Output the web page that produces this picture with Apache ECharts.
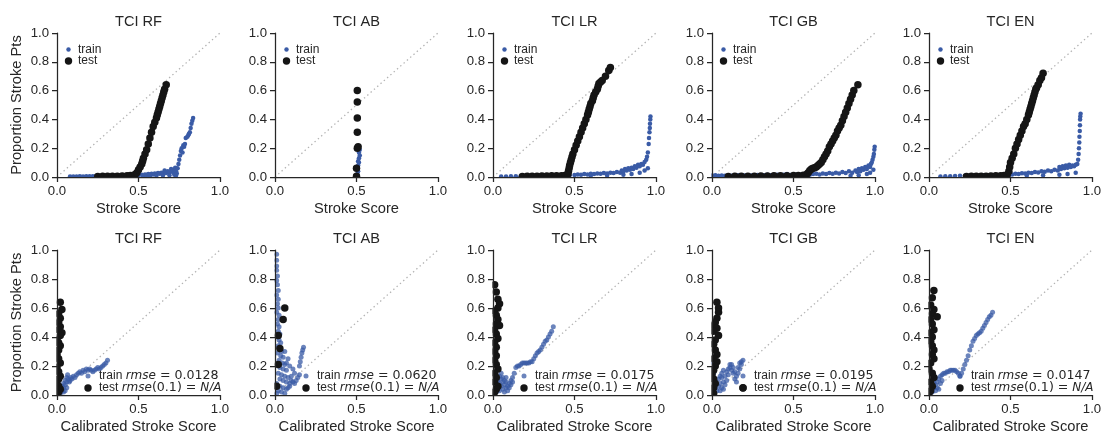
<!DOCTYPE html>
<html><head><meta charset="utf-8">
<script src="https://cdn.jsdelivr.net/npm/echarts@6/dist/echarts.min.js"></script>
<style>html,body{margin:0;padding:0;background:#fff}#c{width:1106px;height:435px}</style>
</head><body><div id="c"></div>
<script>
const titles = ['TCI RF', 'TCI AB', 'TCI LR', 'TCI GB', 'TCI EN'];
const trainRmse = ['0.0128', '0.0620', '0.0175', '0.0195', '0.0147'];
const testRmse = ['N/A', 'N/A', 'N/A', 'N/A', 'N/A'];
const xTickInterval = 0.5;
const yTickInterval = 0.2;

// ---- Row 1: raw score calibration (x = stroke score, y = proportion stroke pts) ----
const rfTrain = [[0.08,0.003],[0.10,0.004],[0.12,0.004],[0.14,0.005],[0.16,0.004],[0.18,0.006],[0.20,0.005],[0.22,0.006],[0.24,0.007],[0.26,0.006],[0.28,0.008],[0.30,0.007],[0.32,0.008],[0.34,0.009],[0.36,0.008],[0.38,0.010],[0.40,0.009],[0.42,0.011],[0.44,0.010],[0.46,0.012],[0.48,0.013],[0.50,0.012],[0.52,0.015],[0.53,0.005],[0.54,0.018],[0.55,0.014],[0.56,0.020],[0.57,0.016],[0.57,0.006],[0.58,0.022],[0.59,0.018],[0.60,0.025],[0.61,0.020],[0.61,0.008],[0.62,0.028],[0.63,0.022],[0.64,0.030],[0.65,0.025],[0.65,0.010],[0.66,0.045],[0.665,0.035],[0.67,0.028],[0.68,0.040],[0.69,0.032],[0.69,0.012],[0.70,0.055],[0.705,0.038],[0.71,0.045],[0.715,0.030],[0.72,0.050],[0.72,0.015],[0.725,0.065],[0.73,0.040],[0.73,0.008],[0.735,0.025],[0.74,0.06],[0.745,0.09],[0.75,0.12],[0.755,0.15],[0.76,0.18],[0.765,0.20],[0.77,0.17],[0.775,0.22],[0.78,0.21],[0.785,0.23],[0.79,0.27],[0.80,0.28],[0.805,0.29],[0.81,0.30],[0.815,0.31],[0.82,0.34],[0.825,0.37],[0.83,0.39],[0.835,0.41]];
const rfTest = [[0.25,0.004],[0.28,0.005],[0.31,0.005],[0.34,0.006],[0.37,0.006],[0.40,0.007],[0.43,0.008],[0.45,0.010],[0.47,0.013],[0.48,0.018],[0.49,0.03],[0.50,0.05],[0.51,0.07],[0.52,0.09],[0.525,0.11],[0.53,0.13],[0.54,0.16],[0.55,0.19],[0.56,0.23],[0.57,0.27],[0.58,0.31],[0.59,0.35],[0.60,0.38],[0.61,0.41],[0.615,0.43],[0.62,0.45],[0.625,0.47],[0.63,0.49],[0.635,0.51],[0.64,0.53],[0.645,0.55],[0.65,0.57],[0.655,0.59],[0.66,0.61],[0.67,0.64]];

const abTrain = [[0.50,0.005],[0.505,0.02],[0.51,0.04],[0.505,0.06],[0.51,0.08],[0.515,0.10],[0.51,0.11],[0.515,0.13],[0.52,0.15],[0.515,0.17],[0.52,0.19]];
const abTest = [[0.50,0.005],[0.50,0.06],[0.505,0.20],[0.51,0.21],[0.505,0.31],[0.505,0.41],[0.505,0.52],[0.505,0.60]];

const lrTrain = [[0.05,0.003],[0.08,0.004],[0.11,0.005],[0.14,0.005],[0.17,0.006],[0.20,0.007],[0.23,0.007],[0.26,0.008],[0.29,0.008],[0.32,0.009],[0.35,0.010],[0.38,0.010],[0.41,0.011],[0.44,0.012],[0.47,0.013],[0.50,0.014],[0.52,0.018],[0.54,0.015],[0.56,0.020],[0.58,0.018],[0.60,0.022],[0.60,0.008],[0.62,0.020],[0.64,0.025],[0.66,0.022],[0.68,0.028],[0.70,0.025],[0.70,0.010],[0.72,0.030],[0.74,0.028],[0.76,0.035],[0.78,0.030],[0.79,0.045],[0.80,0.040],[0.80,0.015],[0.81,0.055],[0.82,0.045],[0.83,0.060],[0.84,0.050],[0.85,0.065],[0.85,0.020],[0.86,0.055],[0.87,0.075],[0.88,0.065],[0.89,0.085],[0.90,0.075],[0.90,0.030],[0.91,0.090],[0.92,0.085],[0.93,0.105],[0.93,0.045],[0.94,0.12],[0.945,0.14],[0.95,0.17],[0.95,0.06],[0.955,0.23],[0.957,0.27],[0.96,0.31],[0.962,0.34],[0.963,0.37],[0.965,0.40],[0.966,0.42]];
const lrTest = [[0.18,0.004],[0.21,0.005],[0.24,0.006],[0.27,0.006],[0.30,0.007],[0.33,0.007],[0.36,0.008],[0.39,0.008],[0.42,0.009],[0.44,0.010],[0.45,0.012],[0.46,0.02],[0.463,0.04],[0.467,0.06],[0.47,0.08],[0.475,0.10],[0.48,0.12],[0.485,0.14],[0.49,0.16],[0.50,0.19],[0.51,0.22],[0.52,0.25],[0.53,0.28],[0.54,0.31],[0.55,0.34],[0.56,0.37],[0.57,0.40],[0.58,0.43],[0.585,0.45],[0.59,0.47],[0.595,0.49],[0.60,0.51],[0.61,0.53],[0.615,0.55],[0.62,0.57],[0.63,0.59],[0.64,0.61],[0.645,0.63],[0.65,0.65],[0.66,0.66],[0.67,0.67],[0.69,0.70],[0.71,0.74],[0.72,0.76]];

const gbTrain = [[0.00,0.010],[0.02,0.012],[0.04,0.008],[0.06,0.010],[0.08,0.009],[0.10,0.011],[0.12,0.008],[0.14,0.010],[0.16,0.012],[0.18,0.009],[0.20,0.011],[0.22,0.013],[0.24,0.010],[0.26,0.012],[0.28,0.014],[0.30,0.011],[0.32,0.013],[0.34,0.015],[0.36,0.012],[0.38,0.014],[0.40,0.016],[0.42,0.013],[0.44,0.015],[0.46,0.020],[0.48,0.014],[0.50,0.016],[0.52,0.018],[0.54,0.015],[0.56,0.017],[0.58,0.019],[0.60,0.016],[0.62,0.020],[0.64,0.022],[0.66,0.018],[0.68,0.025],[0.70,0.020],[0.72,0.028],[0.74,0.022],[0.76,0.030],[0.78,0.024],[0.80,0.035],[0.82,0.028],[0.84,0.040],[0.85,0.008],[0.86,0.030],[0.88,0.045],[0.89,0.035],[0.90,0.055],[0.90,0.012],[0.91,0.040],[0.92,0.060],[0.93,0.050],[0.94,0.070],[0.95,0.055],[0.95,0.020],[0.96,0.080],[0.97,0.070],[0.97,0.030],[0.975,0.090],[0.98,0.100],[0.985,0.12],[0.99,0.14],[0.99,0.05],[0.993,0.16],[0.996,0.19],[0.998,0.21]];
const gbTest = [[0.10,0.004],[0.14,0.005],[0.18,0.005],[0.22,0.006],[0.26,0.006],[0.30,0.007],[0.34,0.007],[0.38,0.008],[0.42,0.008],[0.46,0.009],[0.50,0.010],[0.53,0.011],[0.56,0.013],[0.58,0.018],[0.59,0.030],[0.60,0.045],[0.61,0.055],[0.62,0.060],[0.63,0.065],[0.64,0.070],[0.65,0.080],[0.66,0.090],[0.67,0.100],[0.68,0.12],[0.69,0.14],[0.70,0.16],[0.71,0.18],[0.72,0.21],[0.73,0.23],[0.74,0.25],[0.75,0.27],[0.76,0.29],[0.77,0.32],[0.78,0.34],[0.79,0.36],[0.80,0.39],[0.81,0.42],[0.82,0.45],[0.83,0.48],[0.84,0.51],[0.85,0.54],[0.86,0.57],[0.87,0.60],[0.895,0.64]];

const enTrain = [[0.07,0.004],[0.10,0.005],[0.13,0.006],[0.16,0.007],[0.19,0.008],[0.22,0.008],[0.25,0.009],[0.28,0.010],[0.31,0.011],[0.34,0.012],[0.37,0.012],[0.40,0.013],[0.43,0.014],[0.46,0.015],[0.49,0.016],[0.51,0.018],[0.53,0.022],[0.55,0.020],[0.57,0.026],[0.59,0.024],[0.60,0.008],[0.61,0.030],[0.63,0.028],[0.65,0.035],[0.67,0.032],[0.69,0.040],[0.70,0.012],[0.71,0.036],[0.73,0.045],[0.75,0.040],[0.77,0.050],[0.79,0.045],[0.80,0.070],[0.80,0.015],[0.81,0.055],[0.82,0.075],[0.83,0.060],[0.84,0.080],[0.85,0.065],[0.85,0.020],[0.86,0.085],[0.87,0.070],[0.88,0.080],[0.89,0.075],[0.90,0.085],[0.90,0.030],[0.91,0.090],[0.915,0.12],[0.918,0.16],[0.92,0.20],[0.922,0.24],[0.923,0.28],[0.925,0.32],[0.926,0.36],[0.927,0.40],[0.928,0.42],[0.93,0.44]];
const enTest = [[0.23,0.004],[0.26,0.005],[0.29,0.005],[0.32,0.006],[0.35,0.006],[0.38,0.007],[0.41,0.008],[0.44,0.009],[0.46,0.010],[0.48,0.015],[0.49,0.04],[0.495,0.07],[0.50,0.10],[0.51,0.13],[0.52,0.16],[0.53,0.20],[0.54,0.23],[0.55,0.26],[0.56,0.29],[0.57,0.32],[0.58,0.35],[0.59,0.37],[0.60,0.40],[0.61,0.43],[0.615,0.45],[0.62,0.47],[0.625,0.49],[0.63,0.51],[0.635,0.53],[0.64,0.55],[0.645,0.57],[0.65,0.59],[0.655,0.61],[0.66,0.62],[0.67,0.64],[0.68,0.67],[0.69,0.69],[0.70,0.72]];

// ---- Row 2: calibrated score (x = calibrated stroke score, y = proportion stroke pts) ----
const rfCalTrain = [[0.02,0.01],[0.03,0.03],[0.03,0.06],[0.04,0.02],[0.04,0.05],[0.04,0.08],[0.05,0.03],[0.05,0.07],[0.05,0.10],[0.06,0.05],[0.06,0.09],[0.06,0.12],[0.065,0.14],[0.07,0.11],[0.075,0.09],[0.08,0.10],[0.085,0.12],[0.09,0.11],[0.10,0.13],[0.11,0.12],[0.12,0.14],[0.13,0.15],[0.14,0.16],[0.15,0.15],[0.16,0.17],[0.17,0.16],[0.18,0.18],[0.19,0.17],[0.20,0.18],[0.21,0.17],[0.22,0.16],[0.23,0.17],[0.24,0.18],[0.25,0.19],[0.26,0.18],[0.27,0.19],[0.28,0.20],[0.29,0.21],[0.30,0.22],[0.31,0.24]];
const rfCalTest = [[0.02,0.64],[0.03,0.59],[0.01,0.56],[0.02,0.53],[0.01,0.50],[0.02,0.47],[0.01,0.45],[0.03,0.43],[0.02,0.41],[0.00,0.38],[0.01,0.36],[0.02,0.34],[0.01,0.31],[0.00,0.28],[0.01,0.25],[0.02,0.22],[0.00,0.19],[0.01,0.16],[0.02,0.13],[0.01,0.11],[0.00,0.08],[0.01,0.06],[0.02,0.04],[0.01,0.02],[0.00,0.01]];

const abCalTrain = [[0.01,0.97],[0.01,0.93],[0.01,0.89],[0.01,0.86],[0.015,0.82],[0.01,0.79],[0.015,0.76],[0.02,0.72],[0.01,0.69],[0.02,0.66],[0.015,0.63],[0.02,0.60],[0.01,0.57],[0.025,0.55],[0.02,0.52],[0.015,0.49],[0.025,0.47],[0.02,0.44],[0.03,0.42],[0.015,0.40],[0.025,0.38],[0.035,0.36],[0.02,0.34],[0.03,0.32],[0.04,0.30],[0.06,0.30],[0.015,0.29],[0.035,0.27],[0.05,0.26],[0.08,0.25],[0.025,0.24],[0.045,0.22],[0.07,0.22],[0.06,0.21],[0.03,0.19],[0.09,0.20],[0.05,0.18],[0.11,0.18],[0.07,0.17],[0.02,0.15],[0.12,0.15],[0.04,0.14],[0.06,0.13],[0.10,0.13],[0.08,0.12],[0.03,0.11],[0.05,0.10],[0.10,0.10],[0.07,0.09],[0.11,0.09],[0.09,0.08],[0.12,0.08],[0.01,0.08],[0.13,0.10],[0.14,0.12],[0.15,0.14],[0.03,0.06],[0.09,0.06],[0.05,0.05],[0.08,0.05],[0.07,0.04],[0.02,0.03],[0.04,0.02],[0.06,0.01],[0.01,0.01],[0.15,0.20],[0.155,0.23],[0.16,0.26],[0.165,0.29],[0.17,0.31],[0.175,0.33]];
const abCalTest = [[0.06,0.60],[0.05,0.52],[0.02,0.41],[0.03,0.32],[0.02,0.21],[0.01,0.06]];

const lrCalTrain = [[0.02,0.02],[0.03,0.05],[0.03,0.10],[0.04,0.03],[0.04,0.08],[0.04,0.13],[0.05,0.06],[0.05,0.11],[0.05,0.15],[0.06,0.04],[0.06,0.09],[0.06,0.12],[0.07,0.07],[0.07,0.02],[0.07,0.10],[0.08,0.05],[0.08,0.09],[0.08,0.12],[0.09,0.06],[0.09,0.03],[0.10,0.08],[0.10,0.05],[0.11,0.10],[0.11,0.07],[0.12,0.09],[0.12,0.12],[0.13,0.15],[0.14,0.19],[0.15,0.20],[0.16,0.20],[0.17,0.21],[0.18,0.22],[0.19,0.22],[0.20,0.22],[0.21,0.22],[0.22,0.22],[0.23,0.23],[0.24,0.23],[0.25,0.25],[0.26,0.27],[0.27,0.29],[0.28,0.30],[0.29,0.31],[0.30,0.33],[0.31,0.35],[0.32,0.37],[0.33,0.38],[0.34,0.40],[0.35,0.42],[0.36,0.44],[0.37,0.47]];
const lrCalTest = [[0.01,0.76],[0.02,0.71],[0.03,0.66],[0.04,0.63],[0.03,0.60],[0.01,0.58],[0.02,0.55],[0.03,0.52],[0.02,0.49],[0.04,0.48],[0.01,0.45],[0.02,0.42],[0.03,0.39],[0.01,0.36],[0.02,0.33],[0.01,0.30],[0.02,0.27],[0.01,0.24],[0.02,0.21],[0.03,0.18],[0.01,0.15],[0.02,0.12],[0.01,0.09],[0.03,0.06],[0.02,0.04],[0.01,0.02],[0.00,0.01]];

const gbCalTrain = [[0.01,0.02],[0.02,0.05],[0.02,0.10],[0.01,0.15],[0.01,0.22],[0.03,0.03],[0.04,0.06],[0.04,0.11],[0.05,0.03],[0.05,0.08],[0.05,0.13],[0.06,0.05],[0.06,0.12],[0.06,0.15],[0.07,0.09],[0.07,0.04],[0.07,0.17],[0.08,0.07],[0.08,0.13],[0.09,0.10],[0.09,0.16],[0.10,0.14],[0.10,0.18],[0.11,0.19],[0.11,0.21],[0.12,0.17],[0.12,0.21],[0.13,0.15],[0.13,0.19],[0.14,0.11],[0.14,0.16],[0.15,0.09],[0.15,0.13],[0.16,0.15],[0.16,0.19],[0.17,0.18],[0.17,0.22],[0.18,0.21],[0.18,0.23],[0.19,0.24]];
const gbCalTest = [[0.03,0.64],[0.04,0.60],[0.04,0.57],[0.03,0.53],[0.02,0.50],[0.01,0.48],[0.03,0.46],[0.01,0.44],[0.04,0.41],[0.02,0.38],[0.01,0.35],[0.02,0.31],[0.03,0.28],[0.01,0.25],[0.03,0.23],[0.02,0.20],[0.01,0.17],[0.00,0.14],[0.01,0.11],[0.02,0.08],[0.01,0.05],[0.00,0.03],[0.01,0.01],[0.19,0.05]];

const enCalTrain = [[0.02,0.02],[0.03,0.05],[0.03,0.09],[0.04,0.03],[0.04,0.07],[0.04,0.12],[0.05,0.05],[0.05,0.09],[0.06,0.04],[0.06,0.11],[0.07,0.08],[0.07,0.13],[0.08,0.10],[0.08,0.14],[0.09,0.15],[0.10,0.15],[0.11,0.16],[0.12,0.16],[0.13,0.17],[0.14,0.17],[0.15,0.17],[0.16,0.17],[0.17,0.16],[0.18,0.15],[0.19,0.13],[0.20,0.15],[0.21,0.18],[0.22,0.21],[0.23,0.24],[0.24,0.27],[0.25,0.31],[0.26,0.34],[0.27,0.37],[0.28,0.39],[0.29,0.41],[0.30,0.42],[0.31,0.43],[0.32,0.44],[0.33,0.46],[0.34,0.48],[0.35,0.50],[0.36,0.52],[0.37,0.54],[0.38,0.55],[0.39,0.57]];
const enCalTest = [[0.03,0.72],[0.02,0.67],[0.01,0.62],[0.03,0.59],[0.02,0.56],[0.05,0.54],[0.01,0.52],[0.02,0.49],[0.03,0.45],[0.01,0.43],[0.02,0.40],[0.01,0.37],[0.02,0.34],[0.03,0.31],[0.02,0.28],[0.03,0.25],[0.01,0.22],[0.00,0.18],[0.02,0.15],[0.03,0.12],[0.01,0.09],[0.02,0.06],[0.01,0.03],[0.00,0.01]];

const diagonal = [[0, 0], [1, 1]];

const rawTrain = [rfTrain, abTrain, lrTrain, gbTrain, enTrain];
const rawTest = [rfTest, abTest, lrTest, gbTest, enTest];
const calTrain = [rfCalTrain, abCalTrain, lrCalTrain, gbCalTrain, enCalTrain];
const calTest = [rfCalTest, abCalTest, lrCalTest, gbCalTest, enCalTest];

// ---- layout ----
const BLUE = '#3a5ba6';
const DARK = '#151515';
const INK = '#262626';
const SANS = '"Liberation Sans", Arial, Helvetica, sans-serif';
const gridLefts = [57, 275, 493, 712, 929];
const rowTops = [33, 250];
const rowHeights = [144, 145];
const W = 163;

const grids = [], xAxes = [], yAxes = [], series = [], graphics = [];
for (let r = 0; r < 2; r++) {
  for (let c = 0; c < 5; c++) {
    const idx = r * 5 + c;
    const L = gridLefts[c], T = rowTops[r], H = rowHeights[r];
    grids.push({ left: L, top: T, width: W, height: H });
    const axisCommon = {
      type: 'value', gridIndex: idx, min: 0, max: 1, z: 10,
      axisLine: { show: true, onZero: false, lineStyle: { color: INK, width: 1.25 } },
      axisTick: { show: true, length: 5, lineStyle: { color: INK, width: 1.25 } },
      axisLabel: { color: INK, fontSize: 13.2, fontFamily: SANS, margin: 8, formatter: v => v.toFixed(1) },
      splitLine: { show: false },
      nameTextStyle: { color: INK, fontSize: 14.7, fontFamily: SANS }
    };
    xAxes.push(Object.assign({}, axisCommon, {
      interval: xTickInterval,
      name: r === 0 ? 'Stroke Score' : 'Calibrated Stroke Score',
      nameLocation: 'middle', nameGap: 24
    }));
    yAxes.push(Object.assign({}, axisCommon, {
      interval: yTickInterval,
      name: c === 0 ? 'Proportion Stroke Pts' : '',
      nameLocation: 'middle', nameGap: 33
    }));
    const tr = r === 0 ? rawTrain[c] : calTrain[c];
    const te = r === 0 ? rawTest[c] : calTest[c];
    series.push({
      type: 'line', xAxisIndex: idx, yAxisIndex: idx, data: diagonal, symbol: 'none', silent: true,
      lineStyle: { color: '#b3b3b3', width: 1.3, type: [1.4, 3] }, z: 1
    });
    series.push({
      name: 'train', type: 'scatter', xAxisIndex: idx, yAxisIndex: idx, data: tr, clip: false,
      symbolSize: r === 0 ? 4.5 : 5,
      itemStyle: { color: BLUE, opacity: r === 0 ? 1 : 0.75 }, z: 2
    });
    series.push({
      name: 'test', type: 'scatter', xAxisIndex: idx, yAxisIndex: idx, data: te, clip: false,
      symbolSize: 7.5, itemStyle: { color: DARK, opacity: 1 }, z: 3
    });

    // clip markers at the plot frame (like matplotlib's axes clipping)
    graphics.push({ type: 'rect', z: 8, silent: true, shape: { x: L - 6, y: T + H + 0.6, width: W + 12, height: 5 }, style: { fill: '#fff' } });
    graphics.push({ type: 'rect', z: 8, silent: true, shape: { x: L - 6, y: T - 6, width: 5.4, height: H + 12 }, style: { fill: '#fff' } });

    // subplot title
    graphics.push({
      type: 'text', x: L + W / 2, y: r === 0 ? 22 : 239, z: 11,
      style: { text: titles[c], font: '14.6px ' + SANS, fill: INK,
        align: 'center', verticalAlign: 'middle', textAlign: 'center', textVerticalAlign: 'middle' }
    });

    // legends
    if (r === 0) {
      const lx = L + 11.5;
      graphics.push({ type: 'circle', z: 11, shape: { cx: lx, cy: 49.5, r: 2.2 }, style: { fill: BLUE } });
      graphics.push({ type: 'circle', z: 11, shape: { cx: lx, cy: 61, r: 3.7 }, style: { fill: DARK } });
      graphics.push({ type: 'text', z: 11, x: lx + 9.5, y: 49.5, style: { text: 'train', font: '12px ' + SANS, fill: INK, verticalAlign: 'middle', textVerticalAlign: 'middle' } });
      graphics.push({ type: 'text', z: 11, x: lx + 9.5, y: 61, style: { text: 'test', font: '12px ' + SANS, fill: INK, verticalAlign: 'middle', textVerticalAlign: 'middle' } });
    } else {
      const lx = L + 31;
      const rich = {
        n: { fontFamily: SANS, fontSize: 12, fill: INK, color: INK },
        i: { fontFamily: '"DejaVu Sans", sans-serif', fontStyle: 'italic', fontSize: 12, fill: INK, color: INK },
        m: { fontFamily: '"DejaVu Sans", sans-serif', fontSize: 12.6, fill: INK, color: INK }
      };
      graphics.push({ type: 'circle', z: 11, shape: { cx: lx, cy: 376, r: 2.5 }, style: { fill: BLUE, opacity: 0.75 } });
      graphics.push({ type: 'circle', z: 11, shape: { cx: lx, cy: 388, r: 3.7 }, style: { fill: DARK } });
      graphics.push({ type: 'text', z: 11, x: lx + 11, y: 376, style: {
        text: '{n|train }{i|rmse}{m| = ' + trainRmse[c] + '}', rich: rich, fill: INK,
        verticalAlign: 'middle', textVerticalAlign: 'middle' } });
      graphics.push({ type: 'text', z: 11, x: lx + 11, y: 388, style: {
        text: '{n|test }{i|rmse}{m|(0.1) = }{i|' + testRmse[c] + '}', rich: rich, fill: INK,
        verticalAlign: 'middle', textVerticalAlign: 'middle' } });
    }
  }
}

const chart = echarts.init(document.getElementById('c'), null, { renderer: 'canvas' });
chart.setOption({
  animation: false,
  backgroundColor: '#fff',
  grid: grids, xAxis: xAxes, yAxis: yAxes, series: series,
  graphic: { elements: graphics }
});
</script></body></html>
